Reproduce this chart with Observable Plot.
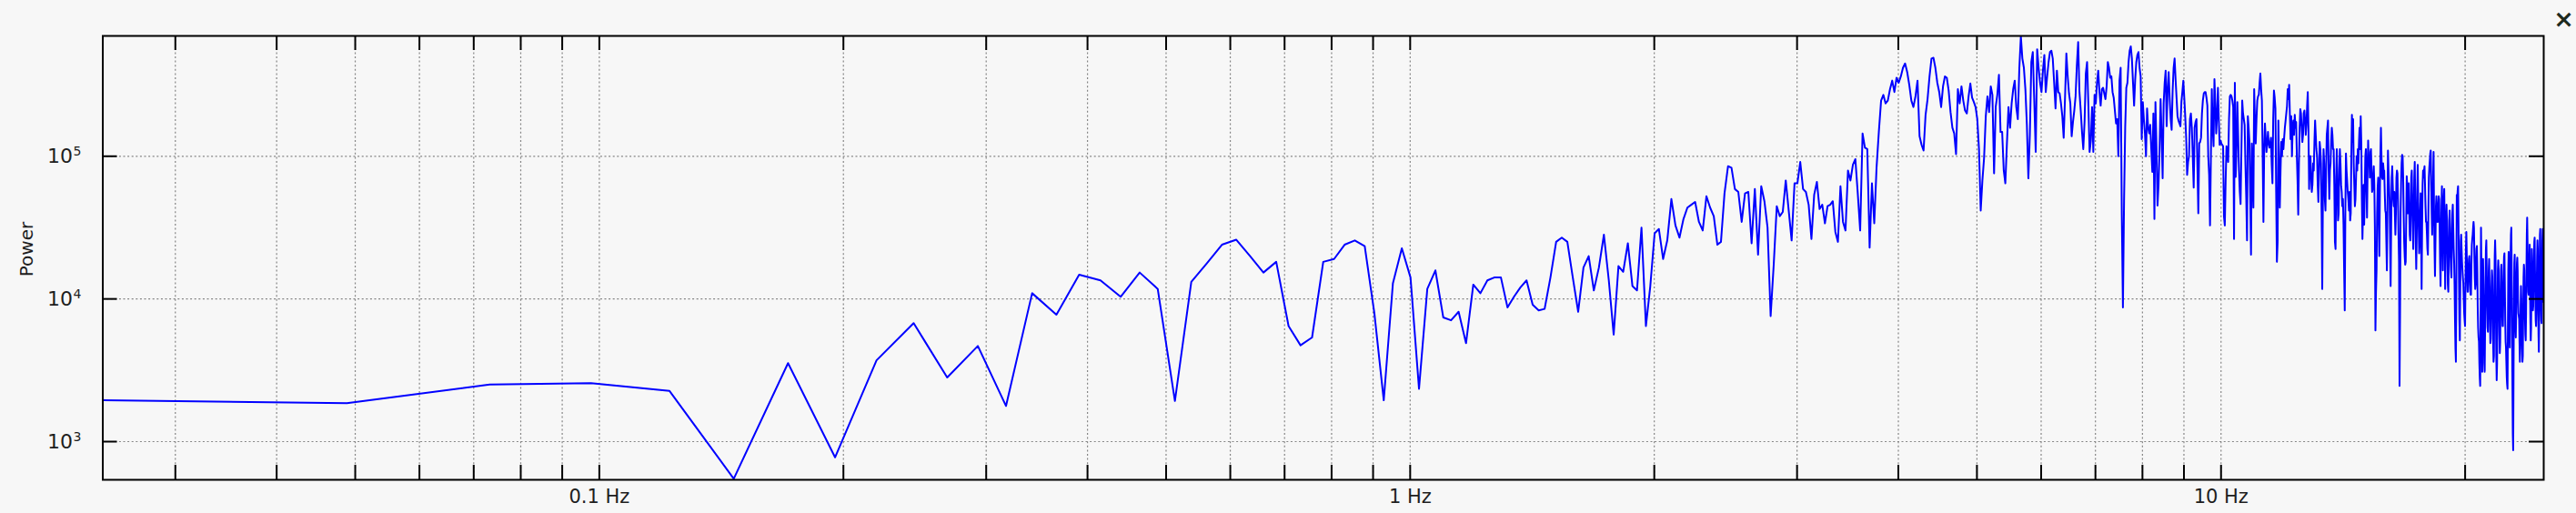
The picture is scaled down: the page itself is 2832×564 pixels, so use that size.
<!DOCTYPE html>
<html>
<head>
<meta charset="utf-8">
<script src="https://cdn.jsdelivr.net/npm/d3@7"></script>
<script src="https://cdn.jsdelivr.net/npm/@observablehq/plot@0.6"></script>
<style>
  html, body { margin: 0; padding: 0; background: #f7f7f7; }
  #chart { width: 2832px; height: 564px; }
</style>
</head>
<body>
<div id="chart"></div>
<script>
// FFT spectrum: 2048 samples at 50 Hz -> bins k = 1..1024, f = k * 50 / 2048
const sampleRateHz = 50;
const fftSize = 2048;

// log10(Power), one value per frequency bin (k = 1..1024)
const powerLog10 = [
  3.29,3.27,3.40,3.41,3.355,2.74,3.55,2.89,3.57,3.83,
  3.45,3.67,3.25,4.04,3.89,4.17,4.13,4.015,4.185,4.07,
  3.285,4.12,4.25,4.38,4.415,4.30,4.185,4.26,3.81,3.675,
  3.73,4.26,4.28,4.38,4.41,4.37,3.90,3.29,4.11,4.355,
  4.15,3.37,4.07,4.20,3.87,3.85,3.91,3.69,4.10,4.04,
  4.13,4.15,4.15,3.94,4.015,4.08,4.13,3.96,3.92,3.93,
  4.15,4.40,4.43,4.40,4.15,3.91,4.22,4.30,4.06,4.22,
  4.45,4.13,3.75,4.23,4.19,4.39,4.09,4.06,4.50,3.81,
  4.09,4.46,4.49,4.28,4.41,4.70,4.515,4.43,4.56,4.64,
  4.66,4.68,4.54,4.48,4.72,4.64,4.58,4.38,4.40,4.74,
  4.93,4.92,4.77,4.75,4.54,4.74,4.75,4.39,4.77,4.31,
  4.79,4.685,4.50,3.88,4.24,4.65,4.58,4.61,4.83,4.62,
  4.41,4.81,4.81,4.96,4.77,4.75,4.66,4.42,4.73,4.82,
  4.63,4.66,4.53,4.65,4.66,4.685,4.47,4.40,4.79,4.54,
  4.48,4.90,4.83,4.94,4.98,4.74,4.48,5.16,5.06,5.05,
  4.36,4.81,4.53,4.92,5.17,5.39,5.43,5.37,5.39,5.47,
  5.53,5.45,5.55,5.515,5.56,5.62,5.65,5.59,5.50,5.39,
  5.345,5.42,5.53,5.14,5.08,5.04,5.29,5.40,5.56,5.685,
  5.69,5.62,5.515,5.45,5.345,5.49,5.56,5.55,5.46,5.31,
  5.20,5.16,5.015,5.47,5.37,5.49,5.39,5.32,5.30,5.42,
  5.51,5.41,5.38,5.345,5.26,5.05,4.62,4.83,4.99,5.28,
  5.42,5.31,5.49,5.43,4.88,5.345,5.43,5.57,5.17,5.17,
  4.90,4.81,5.09,5.345,5.20,5.37,5.47,5.53,5.345,5.26,
  5.62,5.84,5.685,5.62,5.47,5.22,4.845,5.15,5.66,5.73,
  5.39,5.03,5.75,5.62,5.515,5.45,5.60,5.71,5.45,5.56,
  5.66,5.73,5.74,5.685,5.515,5.335,5.60,5.45,5.44,5.37,
  5.28,5.13,5.41,5.72,5.56,5.44,5.37,5.14,5.24,5.32,
  5.42,5.64,5.80,5.45,5.32,5.17,5.05,5.24,5.58,5.66,
  5.37,5.03,5.11,5.345,5.03,5.43,5.37,5.515,5.60,5.45,
  5.355,5.47,5.48,5.44,5.40,5.49,5.66,5.62,5.55,5.56,
  5.45,5.41,5.32,5.23,5.26,5.00,5.53,5.62,4.60,3.94,
  4.685,5.20,5.48,5.515,5.66,5.74,5.77,5.685,5.515,5.355,
  5.54,5.66,5.71,5.73,5.62,5.56,5.12,5.38,5.26,5.16,
  5.00,5.335,5.20,5.16,5.22,5.05,4.89,5.30,4.56,5.38,
  5.06,4.655,4.80,5.05,5.40,5.15,4.845,5.37,5.515,5.60,
  5.21,5.47,5.59,5.41,5.26,5.185,5.46,5.62,5.685,5.54,
  5.41,5.28,5.25,5.23,5.21,5.38,5.45,5.53,5.41,5.28,
  5.13,4.87,4.96,5.00,5.26,5.30,5.20,5.00,4.78,5.20,
  5.24,5.26,4.94,4.60,5.09,5.10,5.13,5.30,5.39,5.44,
  5.45,5.45,5.41,5.355,5.00,4.87,4.515,5.00,5.47,5.20,
  5.07,5.54,5.37,5.16,5.28,5.48,5.26,5.08,5.11,5.09,
  5.08,5.07,4.58,4.515,4.83,5.07,5.03,4.96,5.26,5.42,
  5.43,5.42,5.39,5.345,4.42,5.515,4.855,5.05,5.38,5.15,
  4.90,4.75,4.665,5.05,5.39,5.30,5.26,5.22,4.94,4.71,
  4.41,5.28,5.20,5.10,4.71,4.31,5.09,4.88,4.64,5.47,
  5.26,5.09,5.26,5.39,5.42,5.43,5.515,5.58,5.47,5.39,
  5.00,4.54,5.05,5.23,5.13,5.03,5.09,5.17,5.09,5.06,
  5.09,5.13,4.94,4.81,5.26,5.46,5.41,5.335,4.75,4.26,
  4.40,5.25,4.95,4.64,4.90,5.10,5.00,5.12,5.05,5.13,
  5.20,5.25,5.30,5.35,5.47,5.40,5.50,5.30,5.12,5.28,
  5.00,5.20,5.25,5.15,5.29,5.20,5.24,5.00,4.83,4.59,
  4.95,5.20,5.33,5.30,5.20,5.10,5.15,5.30,5.32,5.25,
  5.15,5.22,5.35,5.45,5.20,4.77,5.00,5.00,4.85,4.75,
  4.80,4.95,4.90,5.10,5.25,5.15,5.05,5.00,4.80,4.68,
  4.90,5.10,5.05,4.95,4.60,4.07,4.70,5.05,4.95,4.70,
  4.62,4.90,5.15,5.20,5.25,4.90,4.70,4.90,4.95,5.10,
  5.20,5.15,5.05,5.05,4.80,4.40,4.35,4.85,5.05,4.80,
  4.55,4.60,4.90,5.05,4.95,4.80,4.75,4.65,4.70,4.52,
  4.20,3.92,4.60,5.02,4.90,4.83,4.75,4.70,4.62,4.75,
  4.55,4.60,5.00,5.29,5.10,5.26,4.95,4.80,4.65,4.70,
  4.85,5.00,4.90,5.05,4.95,5.10,5.20,5.05,5.28,5.10,
  4.70,4.42,4.60,4.80,4.52,4.75,5.00,5.05,4.80,4.57,
  4.90,5.11,4.95,4.98,4.85,5.03,5.05,4.90,4.75,4.77,
  4.85,4.93,4.80,4.50,3.78,4.05,4.20,4.60,4.78,4.85,
  4.55,4.30,4.70,5.00,5.20,5.00,4.85,4.84,4.95,4.90,
  4.90,4.75,4.62,4.60,4.40,4.20,4.60,5.04,4.90,4.80,
  4.70,4.40,4.09,4.50,4.85,4.93,4.80,4.70,4.65,4.75,
  4.60,4.45,4.60,4.85,4.90,4.88,4.70,4.45,4.26,3.39,
  3.90,4.60,4.81,4.95,5.01,5.00,4.85,4.60,4.40,4.30,
  4.24,4.26,4.55,4.86,4.80,4.60,4.78,4.81,4.60,4.45,
  4.41,4.60,4.85,4.90,4.70,4.50,4.35,4.60,4.85,4.96,
  4.70,4.40,4.21,4.45,4.75,4.94,4.70,4.50,4.32,4.40,
  4.60,4.74,4.50,4.07,4.50,4.80,4.90,4.85,4.90,4.93,
  4.80,4.65,4.54,4.54,4.45,4.35,4.31,4.60,4.85,4.92,
  4.97,5.02,5.04,4.80,4.60,4.45,4.60,4.85,5.03,4.60,
  4.35,4.16,4.40,4.65,4.72,4.60,4.54,4.54,4.65,4.72,
  4.70,4.50,4.25,4.09,4.40,4.65,4.79,4.50,4.20,4.50,
  4.70,4.77,4.50,4.07,4.35,4.55,4.66,4.55,4.30,4.10,
  4.05,4.30,4.55,4.62,4.50,4.30,4.20,4.15,4.40,4.60,
  4.66,4.50,4.35,4.26,4.10,3.85,3.65,3.56,4.10,4.73,
  4.70,4.76,4.79,4.50,4.15,3.85,3.71,4.10,4.40,4.45,
  4.35,4.26,4.20,4.15,4.11,4.00,3.90,3.85,3.81,4.10,
  4.35,4.47,4.30,4.15,4.05,4.05,4.20,4.28,4.30,4.20,
  4.10,4.03,4.03,4.25,4.38,4.42,4.45,4.50,4.54,4.50,
  4.30,4.15,4.07,4.10,4.25,4.35,4.37,4.20,3.95,3.80,
  3.73,3.70,3.55,3.45,3.39,3.90,4.50,4.20,3.80,3.49,
  3.90,4.28,4.10,3.80,3.55,3.49,3.80,4.10,4.35,4.41,
  4.20,3.95,3.80,3.77,4.00,4.20,4.28,4.10,3.85,3.69,
  3.72,3.95,4.10,4.20,4.15,3.90,3.70,3.56,3.60,4.00,
  4.30,4.41,4.30,3.90,3.60,3.43,3.55,3.90,4.20,4.27,
  4.20,3.95,3.75,3.62,3.70,4.00,4.20,4.24,4.10,3.90,
  3.81,3.81,4.00,4.20,4.30,4.32,4.10,3.85,3.70,3.66,
  3.55,3.45,3.40,3.37,3.80,4.20,4.33,4.00,3.75,3.66,
  4.00,4.30,4.45,4.50,4.20,3.80,3.40,3.05,2.94,3.50,
  4.00,4.25,4.31,4.05,3.80,3.73,3.90,4.15,4.25,4.29,
  4.20,4.00,3.90,3.88,3.86,3.70,3.56,3.70,3.95,4.09,
  4.00,3.80,3.65,3.56,3.60,3.90,4.15,4.24,4.20,4.00,
  3.85,3.75,3.71,3.90,4.20,4.45,4.57,4.40,4.20,4.05,
  4.03,4.10,4.25,4.38,4.10,3.85,3.71,3.80,4.10,4.35,
  4.20,4.00,3.92,3.95,4.15,4.30,4.40,4.43,4.20,4.00,
  3.85,3.81,3.90,4.10,4.30,4.41,4.35,4.00,3.75,3.63,
  3.90,4.20,4.45,4.49,4.20,3.95,3.85,3.83,4.10,4.40,
  4.49,4.20,3.98,4.10
];

// Axis ticks and labels
const xTickValues = [0.03,0.04,0.05,0.06,0.07,0.08,0.09,0.1,0.2,0.3,0.4,0.5,0.6,0.7,0.8,0.9,1,2,3,4,5,6,7,8,9,10,20];
const xLabelTicks = [0.1, 1, 10];
const xLabelText = ["0.1 Hz", "1 Hz", "10 Hz"];
const yTickValues = [1e3, 1e4, 1e5];
const yTickBase = ["10", "10", "10"];
const yTickExponent = ["3", "4", "5"];
const yAxisTitle = "Power";
const closeGlyph = "×";

const binWidthHz = sampleRateHz / fftSize;
const spectrum = powerLog10.map((v, i) => ({frequency: (i + 1) * binWidthHz, power: Math.pow(10, v)}));

const W = 2832, H = 564;
const mL = 112.5, mR = 36, mT = 39, mB = 37;
const innerW = W - mL - mR, innerH = H - mT - mB;
const tickLen = 16;
const gridStyle = {stroke: "#858585", strokeOpacity: 1, strokeWidth: 1.2, strokeDasharray: "2,2.6"};
const tickStyle = {stroke: "#000", strokeWidth: 2};
const textColor = "#1e1e1e";

const chart = Plot.plot({
  width: W,
  height: H,
  marginLeft: mL, marginRight: mR, marginTop: mT, marginBottom: mB,
  style: {background: "#f7f7f7", fontFamily: "'DejaVu Sans', sans-serif", color: textColor},
  x: {type: "log", domain: [binWidthHz, sampleRateHz / 2], axis: null},
  y: {type: "log", domain: [540, 697000], axis: null},
  marks: [
    Plot.gridX(xTickValues, gridStyle),
    Plot.gridY(yTickValues, gridStyle),
    Plot.line(spectrum, {x: "frequency", y: "power", stroke: "#0000ff", strokeWidth: 2, clip: true}),
    Plot.frame({stroke: "#000", strokeWidth: 2}),
    Plot.tickX(xTickValues, {x: d => d, insetTop: innerH - tickLen, ...tickStyle}),
    Plot.tickX(xTickValues, {x: d => d, insetBottom: innerH - tickLen, ...tickStyle}),
    Plot.tickY(yTickValues, {y: d => d, insetRight: innerW - tickLen, ...tickStyle}),
    Plot.tickY(yTickValues, {y: d => d, insetLeft: innerW - tickLen, ...tickStyle}),
    Plot.text(xLabelTicks, {x: d => d, frameAnchor: "bottom", dy: 19, textAnchor: "middle", lineAnchor: "middle", text: (d, i) => xLabelText[i], fontSize: 21, fill: textColor}),
    Plot.text(yTickValues, {y: d => d, frameAnchor: "left", dx: -33, textAnchor: "end", lineAnchor: "middle", text: (d, i) => yTickBase[i], fontSize: 22, fill: textColor}),
    Plot.text(yTickValues, {y: d => d, frameAnchor: "left", dx: -32.5, dy: -5, textAnchor: "start", lineAnchor: "middle", text: (d, i) => yTickExponent[i], fontSize: 14, fill: textColor}),
    Plot.text([yAxisTitle], {frameAnchor: "left", dx: -83.5, dy: -9.5, rotate: -90, textAnchor: "middle", lineAnchor: "middle", fontSize: 20, fill: textColor}),
    Plot.text([closeGlyph], {frameAnchor: "top-right", dx: 22, dy: -18, textAnchor: "middle", lineAnchor: "middle", fontSize: 27, fontWeight: "bold", fill: "#1e2a1e"})
  ]
});
document.getElementById("chart").appendChild(chart);
</script>
</body>
</html>
